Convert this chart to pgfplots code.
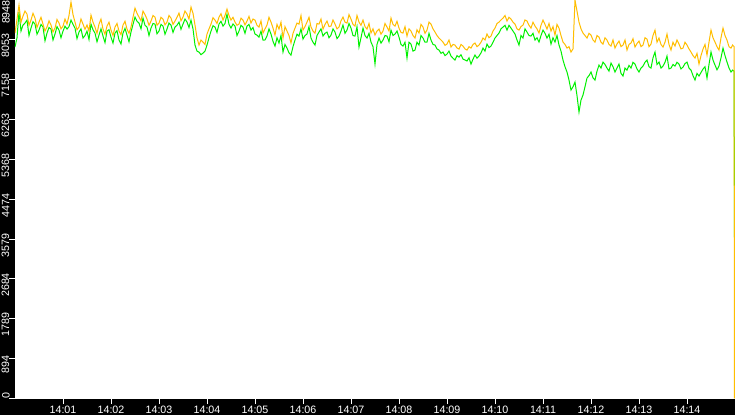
\documentclass[border=0pt]{standalone}
\usepackage{pgfplots}
\pgfplotsset{compat=1.18}
\usepackage{pgfplotstable}
\usepackage{fontspec}
\setmainfont{Liberation Sans}
\definecolor{cOrange}{RGB}{255,190,0}
\definecolor{cGreen}{RGB}{0,240,0}
\pgfplotstableread{
t o g
0 8205 7891
2.5 8520 8100
5 8834 8677
7.5 8450 8250
10 8587 8385
12.5 8700 8430
15 8632 8497
17.5 8380 8150
20 8497 8317
22.5 8650 8460
25 8542 8407
27.5 8330 8180
30 8452 8272
32.5 8560 8400
35 8407 8340
37.5 8250 8030
40 8340 8205
42.5 8480 8330
45 8385 8295
47.5 8230 8050
50 8317 8183
52.5 8510 8350
55 8430 8272
57.5 8300 8100
60 8362 8250
62.5 8520 8360
65 8407 8295
67.5 8600 8350
70 8901 8497
72.5 8620 8400
75 8452 8317
77.5 8280 8080
80 8340 8228
82.5 8520 8300
85 8407 8093
87.5 8290 8150
90 8385 8250
92.5 8250 8060
95 8609 8407
97.5 8450 8280
100 8340 8205
102.5 8200 8010
105 8407 8160
107.5 8520 8300
110 8295 8138
112.5 8180 7990
115 8362 8250
117.5 8450 8280
120 8272 8115
122.5 8150 7980
125 8340 8205
127.5 8420 8260
130 8250 8048
132.5 8170 7960
135 8385 8205
137.5 8470 8310
140 8295 8160
142.5 8200 8010
145 8340 8228
147.5 8560 8400
150 8766 8564
152.5 8650 8470
155 8564 8430
157.5 8480 8300
160 8699 8542
162.5 8620 8380
165 8519 8340
167.5 8380 8150
170 8475 8317
172.5 8600 8420
175 8564 8407
177.5 8380 8190
180 8430 8250
182.5 8560 8400
185 8519 8362
187.5 8390 8180
190 8452 8295
192.5 8600 8430
195 8542 8385
197.5 8400 8220
200 8475 8340
202.5 8560 8380
205 8654 8452
207.5 8480 8290
210 8564 8407
212.5 8700 8520
215 8632 8452
217.5 8520 8330
220 8789 8497
222.5 8650 8300
225 8385 7936
227.5 8100 7800
230 7936 7779
232.5 8050 7720
235 8003 7756
237.5 7950 7800
240 8183 7936
242.5 8300 8100
245 8407 8250
247.5 8550 8370
250 8497 8340
252.5 8420 8220
255 8564 8407
257.5 8640 8470
260 8497 8362
262.5 8600 8420
265 8744 8632
267.5 8600 8400
270 8497 8317
272.5 8560 8410
275 8452 8362
277.5 8380 8150
280 8407 8250
282.5 8540 8380
285 8497 8340
287.5 8390 8200
290 8475 8362
292.5 8580 8400
295 8430 8272
297.5 8520 8330
300 8497 8183
302.5 8380 8160
305 8340 8115
307.5 8480 8250
310 8205 8048
312.5 8300 8050
315 8385 8138
317.5 8560 8300
320 8452 8183
322.5 8320 8020
325 8160 7913
327.5 8400 8100
330 8295 7981
332.5 8450 8150
335 8093 7779
337.5 8350 7950
340 8250 7868
342.5 8150 7760
345 7981 7711
347.5 8200 7900
350 8317 8048
352.5 8430 8180
355 8407 8138
357.5 8600 8300
360 8272 8070
362.5 8350 8150
365 8452 8183
367.5 8560 8350
370 8340 8093
372.5 8250 8000
375 8205 7936
377.5 8420 8150
380 8407 8228
382.5 8520 8300
385 8295 8138
387.5 8400 8200
390 8475 8228
392.5 8350 8100
395 8362 8160
397.5 8500 8300
400 8407 8228
402.5 8300 8080
405 8340 8138
407.5 8480 8250
410 8564 8385
412.5 8450 8200
415 8430 8272
417.5 8620 8420
420 8519 8317
422.5 8400 8150
425 8362 8138
427.5 8600 8350
430 8452 7891
432.5 8380 8100
435 8497 8317
437.5 8350 8150
440 8295 8093
442.5 8420 8200
445 8205 8003
447.5 8300 7900
450 8160 7509
452.5 8250 7950
455 8295 8093
457.5 8180 7980
460 8250 8048
462.5 8420 8150
465 8340 8138
467.5 8250 8010
470 8542 8272
472.5 8400 8150
475 8362 8183
477.5 8470 8250
480 8317 8115
482.5 8220 7950
485 8205 7913
487.5 8350 8000
490 8138 7644
492.5 8300 8000
495 8250 7958
497.5 8150 7800
500 8093 7823
502.5 8280 8000
505 8205 7936
507.5 8400 8150
510 8340 8093
512.5 8200 8000
515 8272 8003
517.5 8450 8200
520 8407 8048
522.5 8300 7950
525 8228 7936
527.5 8150 7850
530 8093 7823
532.5 8050 7750
535 8003 7779
537.5 7930 7700
540 7958 7734
542.5 8050 7800
545 7891 7689
547.5 7950 7640
550 7936 7599
552.5 7870 7700
555 7846 7666
557.5 7950 7720
560 7913 7621
562.5 7850 7600
565 7823 7577
567.5 7900 7650
570 7868 7509
572.5 7950 7620
575 7981 7711
577.5 7900 7640
580 7936 7689
582.5 8000 7760
585 8093 7868
587.5 8050 7800
590 8183 7958
592.5 8100 7880
595 8138 7913
597.5 8250 8000
600 8317 8093
602.5 8420 8150
605 8452 8205
607.5 8500 8300
610 8542 8340
612.5 8600 8380
615 8475 8272
617.5 8560 8380
620 8519 8317
622.5 8450 8250
625 8407 8183
627.5 8300 8050
630 8272 7936
632.5 8350 8150
635 8385 8093
637.5 8500 8300
640 8475 8228
642.5 8380 8150
645 8317 8138
647.5 8450 8200
650 8362 8048
652.5 8300 8100
655 8205 8003
657.5 8380 8150
660 8497 8272
662.5 8400 8200
665 8295 8093
667.5 8420 8180
670 8250 7958
672.5 8350 8100
675 8160 8003
677.5 8400 8150
680 8317 7936
682.5 8150 7800
685 8003 7599
687.5 7950 7450
690 7868 7330
692.5 7900 7150
695 7779 6925
697.5 7850 7000
700 8946 7105
702.5 8700 6800
705 8452 6432
707.5 8300 6700
710 8205 6813
712.5 8150 7000
715 8093 7195
717.5 8200 7250
720 8160 7330
722.5 8050 7200
725 8003 7150
727.5 8150 7350
730 8115 7487
732.5 8000 7420
735 7958 7554
737.5 8100 7500
740 8048 7419
742.5 7950 7350
745 7913 7532
747.5 8050 7450
750 7868 7330
752.5 7960 7420
755 8026 7509
757.5 7900 7300
760 7936 7240
762.5 8050 7420
765 7823 7374
767.5 7950 7480
770 7981 7419
772.5 8080 7550
775 7891 7509
777.5 7970 7400
780 8026 7330
782.5 7900 7420
785 7936 7464
787.5 8100 7550
790 8070 7599
792.5 7900 7450
795 7958 7419
797.5 8150 7650
800 8272 7779
802.5 8000 7500
805 8093 7554
807.5 7950 7420
810 7891 7464
812.5 8000 7550
815 8183 7689
817.5 7950 7400
820 7823 7419
822.5 8000 7500
825 7913 7464
827.5 8050 7550
830 7958 7509
832.5 7850 7400
835 7868 7442
837.5 8000 7520
840 7936 7554
842.5 7850 7420
845 7779 7374
847.5 7700 7250
850 7644 7150
852.5 7750 7300
855 7509 7240
857.5 7700 7320
860 7846 7397
862.5 7950 7450
865 7711 7195
867.5 8000 7500
870 8272 7779
872.5 8100 7600
875 8003 7487
877.5 7900 7380
880 7823 7464
882.5 8100 7650
885 8317 7868
887.5 8150 7700
890 8048 7554
892.5 7900 7420
895 7868 7330
897 7936 7374
898.9 7900 7350
899.3 0 3620
}\data
\begin{document}
\begin{tikzpicture}
\fill[black] (-15bp,-16.5bp) rectangle (720bp,398.5bp);
\begin{axis}[
  at={(0,0)}, anchor=south west,
  scale only axis, width=720bp, height=398.5bp,
  xmin=0, xmax=900, ymin=0, ymax=8948,
  axis line style={draw=none},
  axis background/.style={fill=white},
  xtick={60,120,...,840},
  xticklabels={14:01,14:02,14:03,14:04,14:05,14:06,14:07,14:08,14:09,14:10,14:11,14:12,14:13,14:14},
  ytick={894.8,1789.6,2684.4,3579.2,4474,5368.8,6263.6,7158.4,8053.2},
  yticklabels={894,1789,2684,3579,4474,5368,6263,7158,8053},
  extra y ticks={0,8948},
  extra y tick labels={},
  xtick pos=bottom, ytick pos=left,
  tick align=outside, major tick length=5.5bp,
  tick style={white, line width=1bp},
  xticklabel style={text=white, inner sep=0pt, anchor=north, yshift=-2bp, font=\fontsize{10.7bp}{10.7bp}\selectfont},
  yticklabel style={text=white, inner sep=0pt, rotate=90, anchor=south, xshift=-6bp, font=\fontsize{10.7bp}{10.7bp}\selectfont},
  clip=true,
]
\addplot[cGreen, line width=1bp, line join=miter] table[x=t, y=g] {\data};
\addplot[cOrange, line width=1bp, line join=miter] table[x=t, y=o] {\data};
\end{axis}
\node[text=white, inner sep=0pt, rotate=90, anchor=south east, font=\fontsize{10.7bp}{10.7bp}\selectfont] at (-5bp,398.5bp) {8948};
\node[text=white, inner sep=0pt, rotate=90, anchor=south west, font=\fontsize{10.7bp}{10.7bp}\selectfont] at (-5bp,-0.5bp) {0};
\pgfresetboundingbox
\useasboundingbox (-15bp,-16.5bp) rectangle (720bp,398.5bp);
\end{tikzpicture}
\end{document}
